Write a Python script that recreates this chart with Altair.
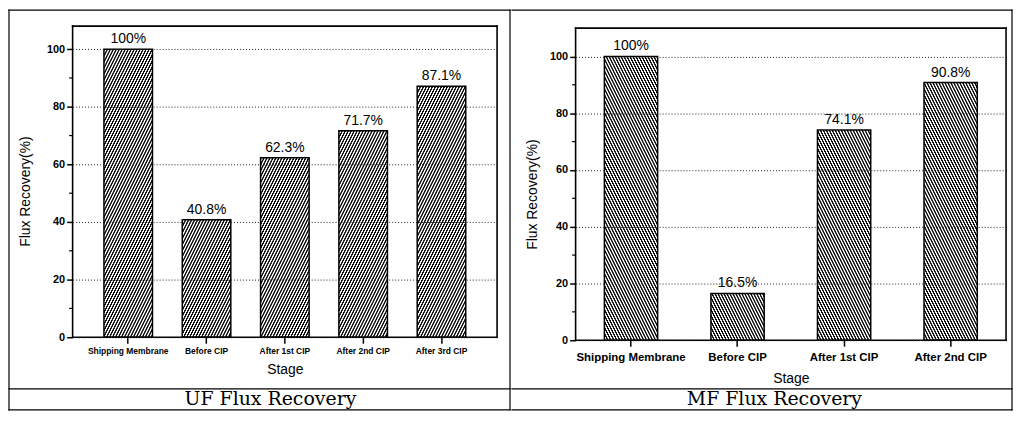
import math
import altair as alt
import pandas as pd

# ---------------- data ----------------
uf_stages = ["Shipping Membrane", "Before CIP", "After 1st CIP", "After 2nd CIP", "After 3rd CIP"]
uf_values = [100, 40.8, 62.3, 71.7, 87.1]
uf_labels = ["100%", "40.8%", "62.3%", "71.7%", "87.1%"]

mf_stages = ["Shipping Membrane", "Before CIP", "After 1st CIP", "After 2nd CIP"]
mf_values = [100, 16.5, 74.1, 90.8]
mf_labels = ["100%", "16.5%", "74.1%", "90.8%"]

y_major = [0, 20, 40, 60, 80, 100]
y_minor = [10, 30, 50, 70, 90]

FONT = "Liberation Sans"
SERIF = "DejaVu Serif"

HATCH_SLOPE = 2.0     # stripe slope (rise over run)
# horizontal profile of one stripe period (px): dark plateau, ramp, light plateau, ramp
HATCH_PROFILE = (1.05, 0.5, 0.95, 0.5)


def hatch_gradient(w, h, direction, dark="#111111", light="#ffffff"):
    """Striped linear gradient that looks like diagonal hatching on a w x h box."""
    th = math.atan(HATCH_SLOPE)
    al, be = math.sin(th), math.cos(th)
    d1, r1, l1, r2 = (v * al for v in HATCH_PROFILE)
    period = d1 + r1 + l1 + r2
    L = al * w + be * h
    k = L / (al * al * w * w + be * be * h * h)
    dx, dy = k * al * w, k * be * h
    if direction == "/":
        x1, y1, x2, y2 = 0, 0, dx, dy
    else:
        x1, y1, x2, y2 = 0, 1, dx, 1 - dy
    stops = []
    pos = 0.0
    while pos < L:
        pts = [(pos, dark), (pos + d1, dark), (pos + d1 + r1, light),
               (pos + d1 + r1 + l1, light)]
        for p, c in pts:
            stops.append((min(p / L, 1.0), c))
        pos += period
    return alt.LinearGradient(
        gradient="linear", x1=x1, y1=y1, x2=x2, y2=y2,
        stops=[alt.GradientStop(offset=round(o, 6), color=c) for o, c in stops],
    )


def rule(width=1.2, **enc):
    op = enc.pop("opacity", 1)
    return alt.Chart(pd.DataFrame({"k": [0]})).mark_rule(
        color="black", strokeWidth=width, strokeCap="square", opacity=op
    ).encode(**{k: alt.value(v) for k, v in enc.items()})


def panel(stages, values, labels, ymax, W, H, top, pi, po, direction,
          xfs, xlabpad, xtitlepad, title_x, title_y, lines, caption, cap_x, cap_y):
    df = pd.DataFrame({"stage": stages, "value": values, "label": labels})
    n = len(stages)
    step = W / (n - pi + 2 * po)
    bw = step * (1 - pi)
    plot_h = H - top

    xenc = alt.X(
        "stage:N", sort=stages, title="Stage",
        scale=alt.Scale(domain=stages, paddingInner=pi, paddingOuter=po),
        axis=alt.Axis(
            labelAngle=0, tickSize=6, tickWidth=1.5, tickColor="black",
            domain=False, grid=False, labelFont=FONT, labelFontSize=xfs,
            labelFontWeight="bold", labelColor="black", labelPadding=xlabpad,
            labelOverlap=False, titleFont=FONT, titleFontSize=14,
            titleFontWeight="normal", titleColor="black", titlePadding=xtitlepad,
            zindex=1,
        ),
    )
    yenc = alt.Y(
        "value:Q", title="Flux Recovery(%)",
        scale=alt.Scale(domain=[0, ymax], nice=False, zero=True, range=[H, top]),
        axis=alt.Axis(
            values=y_major, grid=True, gridDash=[1, 2], gridColor="#222222",
            gridWidth=1, tickSize=6, tickWidth=1.5, tickColor="black",
            domain=False, labelFont=FONT, labelFontSize=11, labelFontWeight="bold",
            labelColor="black", labelPadding=2, titleFont=FONT, titleFontSize=14,
            titleFontWeight="normal", titleColor="black", titleX=title_x,
            titleY=title_y, zindex=1,
        ),
    )

    layers = []
    for s, v in zip(stages, values):
        h = v / ymax * plot_h
        g = hatch_gradient(bw, h, direction)
        layers.append(
            alt.Chart(df)
            .transform_filter(alt.datum.stage == s)
            .mark_bar(fill=g, stroke="black", strokeWidth=1.5)
            .encode(x=xenc, y=yenc)
        )
    minor = (
        alt.Chart(pd.DataFrame({"value": y_minor}))
        .mark_rule(color="black", strokeWidth=1.2)
        .encode(y=yenc, x=alt.value(-3.5), x2=alt.value(0))
    )
    text = (
        alt.Chart(df)
        .mark_text(dy=-6, baseline="alphabetic", font=FONT, fontSize=14, color="black")
        .encode(x=xenc, y=yenc, text="label:N")
    )
    cap = (
        alt.Chart(pd.DataFrame({"k": [0]}))
        .mark_text(text=caption, font=SERIF, fontSize=19, color="black",
                   align="center", baseline="middle")
        .encode(x=alt.value(cap_x), y=alt.value(cap_y))
    )
    frame = [
        rule(width=1.6, x=0, x2=W, y=top),
        rule(width=1.6, x=0, x2=W, y=H),
        rule(width=1.6, x=0, y=top, y2=H),
        rule(width=1.6, x=W, y=top, y2=H),
    ]
    line_layers = [rule(**l) for l in lines]
    return alt.layer(*layers, minor, text, *frame, *line_layers, cap).properties(width=W, height=H)


left = panel(
    uf_stages, uf_values, uf_labels, ymax=108, W=427, H=313, top=0, pi=0.38, po=0.4,
    direction="/", xfs=8.5, xlabpad=3, xtitlepad=8, title_x=-40, title_y=166,
    lines=[
        dict(x=-64, x2=440, y=-16),
        dict(x=-64, y=-16, y2=386),
        dict(x=440, y=-16, y2=386),
        dict(x=-64, x2=440, y=365),
        dict(x=-64, x2=440, y=386),
    ],
    caption="UF Flux Recovery", cap_x=199, cap_y=375.5,
)

right = panel(
    mf_stages, mf_values, mf_labels, ymax=110, W=433, H=316, top=2, pi=0.5, po=0.27,
    direction="\\", xfs=11.5, xlabpad=5, xtitlepad=9, title_x=-36, title_y=169,
    lines=[
        dict(x=-64, y=-16, y2=386, opacity=0),
        dict(x=-64, x2=439, y=-16),
        dict(x=439, y=-16, y2=386),
        dict(x=-64, x2=439, y=365),
        dict(x=-64, x2=439, y=386),
    ],
    caption="MF Flux Recovery", cap_x=200, cap_y=375.5,
)

chart = (
    alt.hconcat(left, right, spacing=0)
    .properties(padding=0)
    .configure(font=FONT)
    .configure_view(stroke=None)
)

chart.save("out.html", embed_options={"renderer": "svg", "actions": False})
